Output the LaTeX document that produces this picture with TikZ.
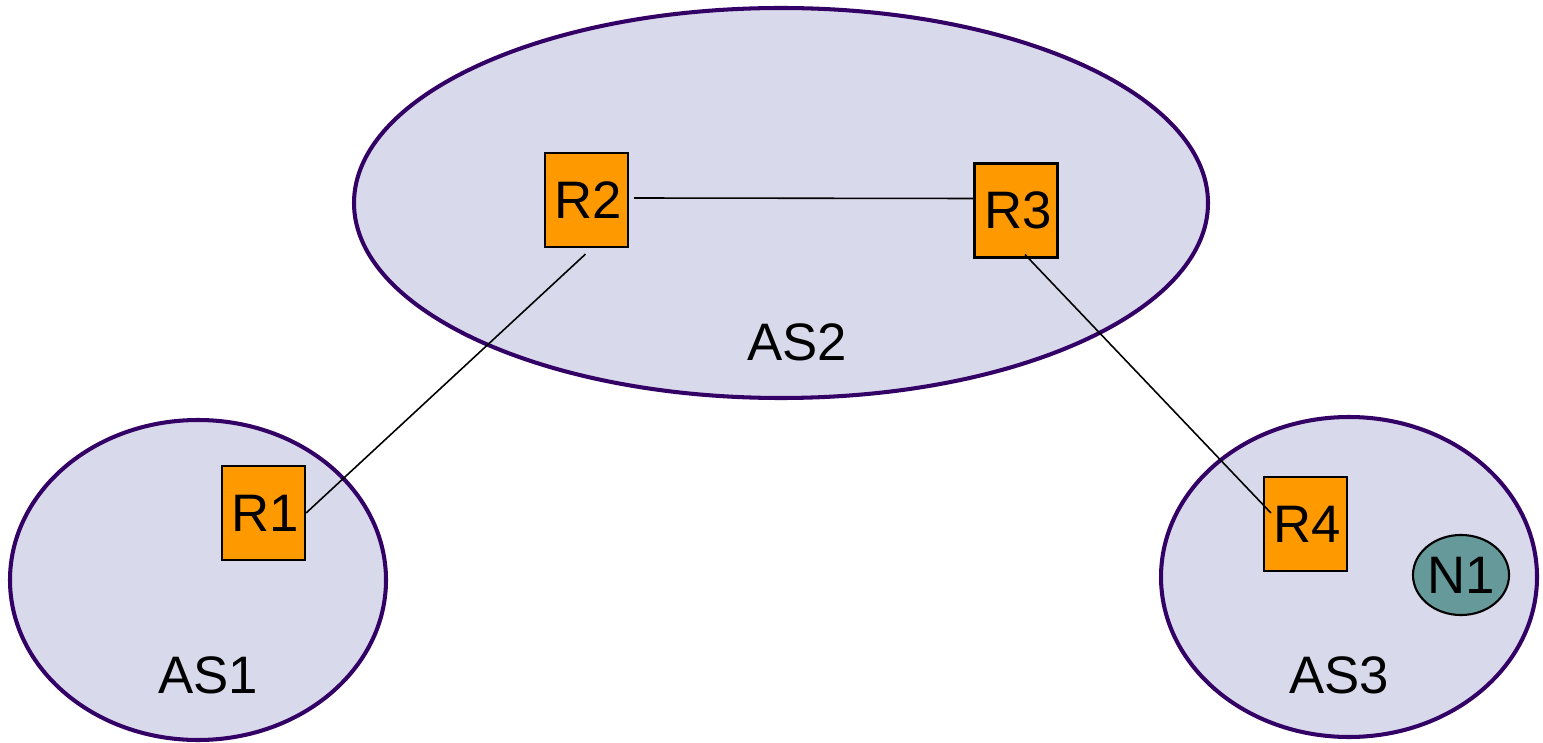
\documentclass[tikz,border=0pt]{standalone}
\usepackage{fontspec}
\setmainfont{Liberation Sans}
\usetikzlibrary{calc,shapes.geometric}
\definecolor{asfill}{HTML}{D9D9EC}
\definecolor{asline}{HTML}{330066}
\definecolor{rfill}{HTML}{FF9900}
\definecolor{nfill}{HTML}{669999}
\tikzset{
  asregion/.style={draw=asline,fill=asfill,line width=1.15pt},
  router/.style={draw=black,fill=rfill,line width=0.6pt,minimum width=0.83cm,minimum height=0.94cm,inner sep=0pt,font=\fontsize{15}{18}\selectfont},
  netnode/.style={ellipse,draw=black,fill=nfill,line width=0.6pt,minimum width=0.96cm,minimum height=0.80cm,inner sep=0pt,font=\fontsize{15}{18}\selectfont},
  aslabel/.style={font=\fontsize{15}{18}\selectfont,inner sep=0pt},
  link/.style={draw=black,line width=0.45pt}
}
\begin{document}
\begin{tikzpicture}[x=0.01cm,y=-0.01cm]
\useasboundingbox (0,0) rectangle (1543,743);
\draw[asregion] (781,203) ellipse [x radius=427, y radius=195];
\draw[asregion] (198,580) ellipse [x radius=188, y radius=160];
\draw[asregion] (1349,577) ellipse [x radius=188, y radius=160];
\node[aslabel] (as2) at (797,342) {AS2};
\node[aslabel] (as1) at (208,675) {AS1};
\node[aslabel] (as3) at (1339,675) {AS3};
\node[router] (R2) at (586.5,200) {\hspace{0.04cm}R2};
\node[router] (R3) at (1016,210.5) {\hspace{0.04cm}R3};
\node[router] (R1) at (263.5,513) {\hspace{0.04cm}R1};
\node[router] (R4) at (1305.5,524) {\hspace{0.04cm}R4};
\node[netnode] (N1) at (1461,575) {N1};
\draw[link] ($(R2.east)+(5,-2)$) -- ($(R3.west)+(0,-12)$);
\draw[link] ($(R2.south)+(-1,6)$) -- (R1.east);
\draw[link] ($(R3.south)+(9,-4)$) -- ($(R4.west)+(8,-11)$);
\end{tikzpicture}
\end{document}
